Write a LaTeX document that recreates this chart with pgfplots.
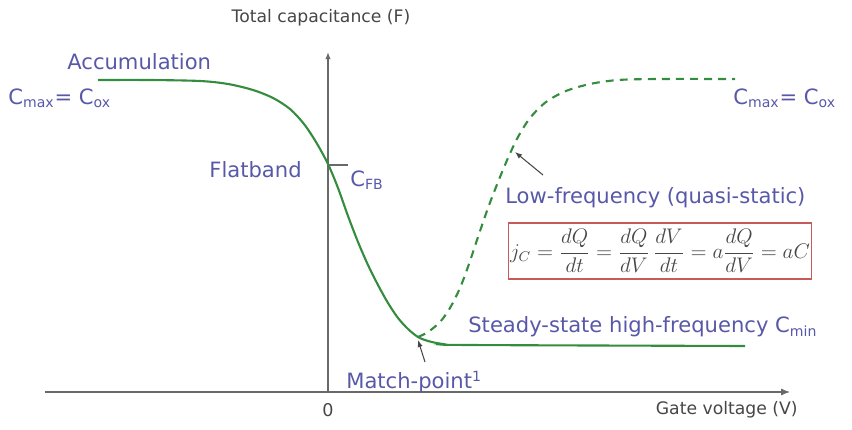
\documentclass[border=0pt]{standalone}
\usepackage{fontspec}
\setmainfont{DejaVu Sans}
\usepackage{pgfplots}
\pgfplotsset{compat=1.18}
\usetikzlibrary{arrows.meta}

\definecolor{annot}{RGB}{88,88,168}
\definecolor{curve}{RGB}{52,140,62}
\definecolor{axisgray}{RGB}{105,105,105}
\definecolor{labgray}{RGB}{70,70,70}
\definecolor{boxred}{RGB}{200,90,90}

\begin{document}
\begin{tikzpicture}[
  annot/.style={font=\fontsize{12}{14}\selectfont, text=annot, inner sep=0pt},
  lab/.style={font=\fontsize{9.8}{12}\selectfont, text=labgray, inner sep=0pt},
  pointer/.style={labgray, line width=0.6pt, -{Latex[length=4pt,width=3pt]}},
]
\begin{axis}[
  width=14.9cm, height=6.8cm, scale only axis,
  xmin=-283, xmax=462, ymin=0, ymax=340,
  axis x line=bottom, axis y line=middle,
  axis line style={axisgray, line width=0.7pt},
  x axis line style={-{Latex[length=5pt,width=4pt]}},
  y axis line style={-{Latex[length=4pt,width=3pt]}},
  xtick={0}, xticklabels={0}, ytick=\empty,
  hide obscured x ticks=false,
  major tick length=0pt,
  xticklabel style={font=\fontsize{10}{12}\selectfont, text=labgray, yshift=-3pt},
  clip=false,
]
% steady-state high-frequency curve
\addplot[curve, line width=1.2pt, smooth, tension=0.5] coordinates {
  (-230,312) (-178,312) (-128,311) (-100,308) (-75,302) (-55,294)
  (-38,283) (-24,268) (-12,250) (0,228) (10,204) (20,176) (30,150)
  (40,127) (50,107) (60,89) (70,74) (80,63) (90,55) (100,51)
  (115,48) (140,47) (417,46)
};
% low-frequency (quasi-static) curve
\addplot[curve, line width=1.2pt, dash pattern=on 4.5pt off 3.5pt, smooth, tension=0.5] coordinates {
  (90,55) (100,60) (112,70) (122,84) (132,104) (141,128) (150,155)
  (160,184) (170,210) (180,234) (190,255) (202,274) (218,290)
  (238,301) (262,308) (290,312) (330,313) (407,313)
};

\draw[axisgray, line width=0.7pt] (axis cs:0,227) -- (axis cs:20,227);

\node[lab, anchor=center] at (axis cs:-7,374) {Total capacitance (F)};
\node[lab, anchor=east] at (axis cs:470,-18) {Gate voltage (V)};

\node[annot, anchor=west] at (axis cs:-261,330) {Accumulation};
\node[annot, anchor=west] at (axis cs:-320,294) {C\textsubscript{max}= C\textsubscript{ox}};
\node[annot, anchor=west] at (axis cs:405,294) {C\textsubscript{max}= C\textsubscript{ox}};
\node[annot, anchor=east] at (axis cs:-26,222) {Flatband};
\node[annot, anchor=west] at (axis cs:22,212) {C\textsubscript{FB}};
\node[annot, anchor=west] at (axis cs:177,194) {Low-frequency (quasi-static)};
\node[annot, anchor=west] at (axis cs:140,65) {Steady-state high-frequency C\textsubscript{min}};
\node[annot, anchor=west] at (axis cs:18,10) {Match-point\textsuperscript{1}};

\draw[pointer] (axis cs:215,217) -- (axis cs:187,240);
\draw[pointer] (axis cs:97,30) -- (axis cs:90,52);

\node[draw=boxred, line width=0.8pt, text=labgray, inner sep=1pt,
      minimum width=172pt, minimum height=32pt] at (axis cs:332,141)
  {\fontsize{11.8}{14}\selectfont$\displaystyle j_C=\frac{dQ}{dt}=\frac{dQ}{dV}\,\frac{dV}{dt}=a\frac{dQ}{dV}=aC$};

\coordinate (bl) at (axis cs:-328,-38);
\coordinate (tr) at (axis cs:524,392);
\end{axis}
\pgfresetboundingbox
\path[use as bounding box] (bl) rectangle (tr);
\end{tikzpicture}
\end{document}
